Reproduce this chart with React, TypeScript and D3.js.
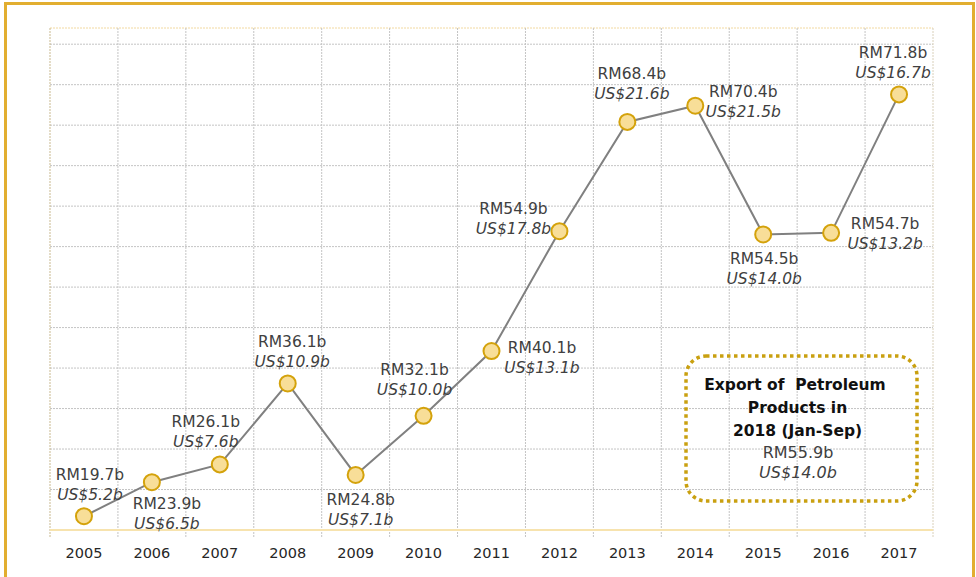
import React from "react";
import * as d3 from "d3";

const years = ["2005","2006","2007","2008","2009","2010","2011","2012","2013","2014","2015","2016","2017"];
const rmValues = [19.7, 23.9, 26.1, 36.1, 24.8, 32.1, 40.1, 54.9, 68.4, 70.4, 54.5, 54.7, 71.8];
const usdValues = ["5.2", "6.5", "7.6", "10.9", "7.1", "10.0", "13.1", "17.8", "21.6", "21.5", "14.0", "13.2", "16.7"];
// label placement: dx of label centre from point, dy of RM baseline from point
const labelDx = [6, 15, -14, 4.5, 5, -9, 50.5, -46, 4.5, 48, 1, 54, -6];
const labelDy = [-36, 27, -37, -36, 30, -41, 2, -17, -43, -9, 30, -4, -36];
const boxTitle = ["Export of  Petroleum", "Products in", "2018 (Jan-Sep)"];
const boxRM = "RM55.9b";
const boxUSD = "US$14.0b";

const W = 976, H = 577;
const L = 50, R = 933, T = 28, B = 530;
const FONT = "'DejaVu Sans', sans-serif";

export default function App() {
  const x = d3.scaleBand<string>().domain(years).range([L, R]).padding(0);
  const y = d3.scaleLinear().domain([18, 80]).range([B, T]);
  const bw = x.bandwidth();
  const cx = (i: number) => (x(years[i]) as number) + bw / 2;
  const gridY = d3.range(23, 80, 5);
  const line = d3.line<number>().x((_, i) => cx(i)).y((d) => y(d));

  return (
    <svg width={W} height={H} style={{ position: "absolute", left: 0, top: 0, background: "#fff" }}>
      <rect x={5.5} y={3.5} width={968} height={600} fill="#fff" stroke="#E2AE30" strokeWidth={3} />
      {gridY.map((g) => (
        <line key={g} x1={L} x2={R} y1={y(g)} y2={y(g)} stroke="#C4C4C4" strokeWidth={1} strokeDasharray="2,1" />
      ))}
      <line x1={L} x2={R} y1={T} y2={T} stroke="#F2D9A0" strokeWidth={1} strokeDasharray="2,1" />
      {years.map((yr, i) => (
        <line key={yr} x1={(x(yr) as number)} x2={(x(yr) as number)} y1={T} y2={B + 7}
          stroke={i === 0 ? "#C9B98F" : "#C4C4C4"} strokeWidth={1} strokeDasharray="2,1" />
      ))}
      <line x1={R} x2={R} y1={T} y2={B + 7} stroke="#D9D0BA" strokeWidth={1} strokeDasharray="2,1" />
      <line x1={L} x2={R} y1={B} y2={B} stroke="#F7E3AE" strokeWidth={2} />
      {years.map((yr, i) => (
        <text key={yr} x={cx(i)} y={558} textAnchor="middle" fontFamily={FONT} fontSize={14.5} fill="#262626">{yr}</text>
      ))}
      <path d={line(rmValues) as string} fill="none" stroke="#808080" strokeWidth={2} />
      {rmValues.map((v, i) => (
        <circle key={i} cx={cx(i)} cy={y(v)} r={8} fill="#F8DE98" stroke="#D4A20B" strokeWidth={2} />
      ))}
      {rmValues.map((v, i) => {
        const lx = cx(i) + labelDx[i];
        const ly = y(v) + labelDy[i];
        return (
          <g key={"l" + i} fontFamily={FONT} fontSize={15.5} fill="#404040" textAnchor="middle">
            <text x={lx} y={ly}>{"RM" + v.toFixed(1) + "b"}</text>
            <text x={lx} y={ly + 20} fontStyle="italic">{"US$" + usdValues[i] + "b"}</text>
          </g>
        );
      })}
      <rect x={686} y={356} width={231} height={145} rx={20} ry={20} fill="none" stroke="#C9A010" strokeWidth={3.5} strokeDasharray="3.5,3.5" />
      <g fontFamily={FONT} textAnchor="middle" fill="#111">
        {boxTitle.map((t, i) => (
          <text key={i} x={i === 0 ? 795 : 797.5} y={390 + i * 23} fontSize={15.5} fontWeight="bold" style={{ whiteSpace: "pre" }}>{t}</text>
        ))}
        <text x={798} y={458} fontSize={16} fill="#404040">{boxRM}</text>
        <text x={798} y={478} fontSize={16} fill="#404040" fontStyle="italic">{boxUSD}</text>
      </g>
    </svg>
  );
}
